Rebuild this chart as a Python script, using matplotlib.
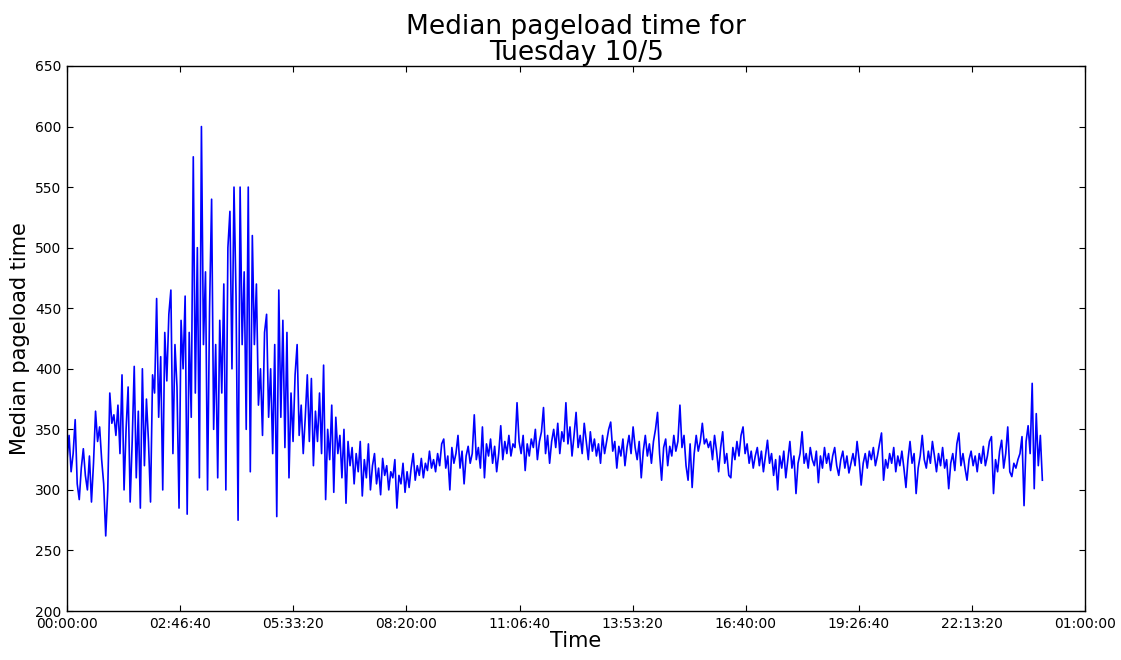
import numpy as np
import matplotlib
matplotlib.use("Agg")
import matplotlib.pyplot as plt
from matplotlib.ticker import FuncFormatter, MultipleLocator

# Median pageload time, one sample every 3 minutes (seconds since midnight)
SAMPLE_STEP_S = 180

# 00:00 - 06:00
load_00_06 = [
    325, 345, 315, 330, 358, 305, 292, 318, 334, 312, 300, 328, 290, 322, 365, 340, 352, 325, 305, 262,
    300, 380, 355, 362, 345, 370, 330, 395, 300, 350, 385, 290, 340, 402, 310, 365, 285, 400, 320, 375,
    340, 290, 395, 380, 458, 360, 410, 300, 430, 390, 445, 465, 330, 420, 385, 285, 440, 400, 460, 280,
    430, 360, 575, 380, 500, 310, 600, 420, 480, 300, 450, 540, 350, 420, 310, 440, 380, 470, 300, 500,
    530, 400, 550, 460, 275, 550, 420, 480, 350, 550, 315, 510, 420, 470, 370, 400, 345, 430, 445, 360,
    400, 330, 420, 278, 465, 360, 440, 335, 430, 310, 380, 340, 395, 420, 345, 370, 330, 360, 395, 340,
]
# 06:00 - 12:00
load_06_12 = [
    392, 320, 365, 340, 380, 330, 403, 292, 350, 325, 370, 298, 360, 330, 345, 310, 350, 289, 340, 320,
    335, 305, 330, 315, 340, 295, 325, 310, 338, 300, 320, 330, 305, 318, 296, 326, 312, 320, 300, 315,
    310, 325, 285, 312, 305, 322, 298, 315, 302, 318, 330, 308, 320, 312, 326, 310, 322, 316, 332, 318,
    325, 315, 330, 320, 338, 342, 318, 328, 300, 335, 322, 330, 345, 318, 332, 305, 328, 336, 322, 330,
    362, 325, 335, 318, 352, 310, 338, 328, 342, 322, 336, 315, 330, 353, 325, 340, 330, 345, 328, 338,
    335, 372, 340, 330, 345, 316, 338, 328, 342, 335, 350, 325, 340, 348, 368, 330, 345, 322, 340, 350,
]
# 12:00 - 18:00
load_12_18 = [
    335, 355, 330, 348, 340, 372, 338, 352, 328, 345, 364, 335, 345, 330, 355, 340, 325, 348, 332, 342,
    328, 338, 322, 345, 330, 340, 350, 356, 332, 340, 318, 336, 328, 342, 320, 335, 345, 330, 352, 335,
    325, 340, 310, 332, 345, 328, 338, 322, 340, 350, 364, 330, 308, 335, 342, 320, 336, 328, 345, 332,
    340, 370, 335, 345, 320, 308, 338, 302, 330, 345, 332, 340, 355, 338, 342, 335, 340, 325, 345, 332,
    315, 335, 348, 322, 330, 312, 310, 335, 325, 340, 328, 345, 352, 330, 338, 322, 332, 318, 328, 335,
    320, 332, 315, 328, 341, 322, 330, 312, 325, 300, 328, 318, 332, 310, 325, 340, 318, 328, 297, 322,
]
# 18:00 - 24:00
load_18_24 = [
    330, 348, 322, 330, 318, 335, 325, 320, 332, 306, 328, 318, 335, 322, 330, 316, 328, 335, 320, 312,
    325, 332, 318, 328, 314, 322, 330, 320, 340, 325, 304, 322, 330, 318, 332, 325, 335, 320, 328, 338,
    347, 308, 325, 318, 330, 322, 335, 315, 328, 320, 332, 318, 302, 325, 340, 322, 330, 297, 318, 328,
    345, 325, 318, 332, 322, 340, 328, 315, 330, 320, 335, 318, 325, 301, 322, 330, 316, 338, 347, 320,
    330, 318, 308, 325, 332, 320, 328, 315, 330, 322, 336, 320, 328, 340, 344, 297, 325, 315, 332, 341,
    318, 330, 352, 315, 311, 322, 318, 325, 330, 344, 287, 340, 353, 330, 388, 301, 363, 320, 345, 308,
]

pageload = np.array(load_00_06 + load_06_12 + load_12_18 + load_18_24, dtype=float)
seconds = np.arange(len(pageload)) * SAMPLE_STEP_S

TITLE = "Median pageload time for\nTuesday 10/5"
XLABEL = "Time"
YLABEL = "Median pageload time"


def hms(x, pos=None):
    s = int(round(x)) % 86400
    return "%02d:%02d:%02d" % (s // 3600, (s % 3600) // 60, s % 60)


fig = plt.figure(figsize=(11.21, 6.60), dpi=100, facecolor="white")
ax = fig.add_axes([0.0598, 0.0742, 0.9082, 0.8258])
ax.plot(seconds, pageload, color="#0000ff", linewidth=1.2)

ax.set_xlim(0, 90000)
ax.set_ylim(200, 650)
ax.xaxis.set_major_locator(MultipleLocator(10000))
ax.xaxis.set_major_formatter(FuncFormatter(hms))
ax.yaxis.set_major_locator(MultipleLocator(50))

ax.tick_params(direction="in", top=True, right=True, length=4, width=0.8,
               labelsize=10, pad=4)
for sp in ax.spines.values():
    sp.set_linewidth(1.0)
    sp.set_color("black")

ax.set_title(TITLE, fontsize=19, pad=4, linespacing=1.0)
ax.set_xlabel(XLABEL, fontsize=15, labelpad=0)
ax.set_ylabel(YLABEL, fontsize=15, labelpad=4)

fig.savefig("out.png", dpi=100, facecolor="white")
